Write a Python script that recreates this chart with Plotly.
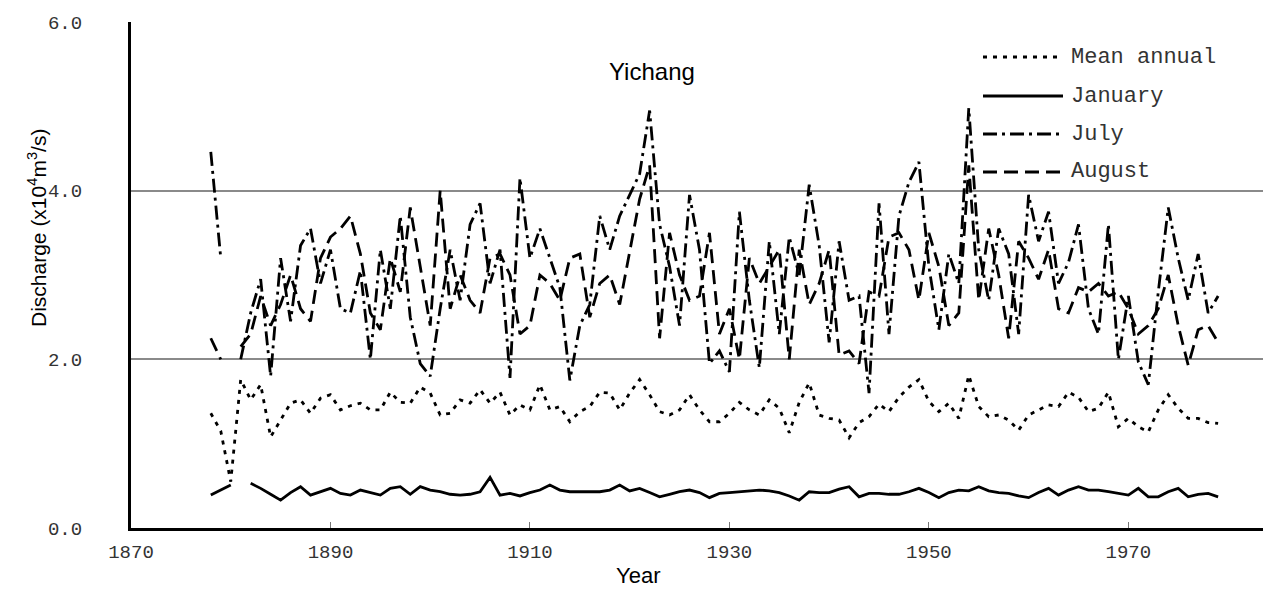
import plotly.graph_objects as go

years = list(range(1878, 1980))

mean_annual = [
    1.36, 1.15, 0.55,
    1.76, 1.52, 1.70, 1.08, 1.28, 1.48, 1.52, 1.36, 1.54, 1.58,
    1.40, 1.45, 1.48, 1.40, 1.40, 1.61, 1.49, 1.48, 1.67, 1.60,
    1.34, 1.36, 1.52, 1.48, 1.64, 1.48, 1.61, 1.34, 1.46, 1.40,
    1.70, 1.40, 1.44, 1.26, 1.38, 1.44, 1.61, 1.60, 1.40, 1.60,
    1.76, 1.58, 1.38, 1.34, 1.40, 1.58, 1.40, 1.26, 1.26, 1.36,
    1.49, 1.40, 1.34, 1.52, 1.42, 1.13, 1.49, 1.72, 1.34, 1.30,
    1.28, 1.07, 1.25, 1.32, 1.47, 1.38, 1.55, 1.67, 1.76, 1.50,
    1.38, 1.48, 1.30, 1.81, 1.44, 1.32, 1.34, 1.28, 1.16, 1.34,
    1.40, 1.46, 1.44, 1.61, 1.55, 1.38, 1.42, 1.61, 1.20, 1.30,
    1.20, 1.14, 1.40, 1.58, 1.42, 1.30, 1.30, 1.25, 1.24,
]

january = [
    0.39, 0.45, 0.51,
    None, 0.53, 0.47, 0.40, 0.33, 0.42, 0.49, 0.39, 0.43, 0.47,
    0.41, 0.39, 0.45, 0.42, 0.39, 0.47, 0.49, 0.40, 0.49, 0.45,
    0.43, 0.40, 0.39, 0.40, 0.43, 0.60, 0.39, 0.41, 0.38, 0.42,
    0.45, 0.51, 0.45, 0.43, 0.43, 0.43, 0.43, 0.45, 0.51, 0.44,
    0.47, 0.42, 0.37, 0.40, 0.43, 0.45, 0.42, 0.36, 0.41, 0.42,
    0.43, 0.44, 0.45, 0.44, 0.42, 0.38, 0.33, 0.43, 0.42, 0.42,
    0.46, 0.49, 0.37, 0.41, 0.41, 0.40, 0.40, 0.43, 0.47, 0.42,
    0.36, 0.42, 0.45, 0.44, 0.49, 0.44, 0.42, 0.41, 0.38, 0.36,
    0.42, 0.47, 0.39, 0.45, 0.49, 0.45, 0.45, 0.43, 0.41, 0.39,
    0.47, 0.37, 0.37, 0.43, 0.47, 0.37, 0.40, 0.41, 0.37,
]

july = [
    4.46, 3.20, None,
    2.00, 2.55, 2.95, 1.80, 3.20, 2.45, 3.35, 3.55, 2.90, 3.30,
    2.60, 2.55, 3.05, 2.00, 3.30, 2.60, 3.70, 2.50, 1.95, 1.80,
    2.60, 3.30, 2.70, 3.60, 3.85, 2.90, 3.30, 1.78, 4.15, 3.20,
    3.55, 3.20, 2.85, 1.75, 2.40, 2.65, 3.70, 3.30, 3.70, 3.95,
    4.20, 4.95, 3.60, 3.10, 2.40, 3.95, 3.30, 1.95, 2.10, 1.85,
    3.75, 2.70, 1.90, 3.40, 2.30, 3.45, 3.00, 4.07, 3.35, 2.20,
    3.40, 2.70, 2.75, 1.60, 3.85, 2.30, 3.70, 4.10, 4.34, 3.10,
    2.35, 3.25, 2.90, 4.98, 3.30, 2.70, 3.55, 3.25, 2.30, 3.95,
    3.40, 3.75, 2.90, 3.15, 3.60, 2.60, 2.30, 3.60, 2.00, 2.75,
    1.97, 1.70, 2.80, 3.80, 3.20, 2.70, 3.25, 2.55, 2.75,
]

august = [
    2.25, 2.00, None,
    2.15, 2.30, 2.75, 2.40, 2.65, 3.00, 2.60, 2.45, 3.20, 3.45,
    3.55, 3.70, 3.25, 2.55, 2.35, 3.20, 2.80, 3.80, 3.10, 2.40,
    4.00, 2.60, 3.00, 2.70, 2.55, 3.20, 3.25, 3.00, 2.30, 2.40,
    3.00, 2.90, 2.70, 3.20, 3.25, 2.50, 2.90, 3.00, 2.65, 3.30,
    3.90, 4.30, 2.25, 3.50, 3.00, 2.70, 2.75, 3.50, 2.30, 2.60,
    2.00, 3.20, 2.90, 3.10, 3.30, 2.00, 3.30, 2.65, 2.90, 3.30,
    2.05, 2.10, 1.95, 2.80, 2.75, 3.45, 3.50, 3.30, 2.70, 3.50,
    3.10, 2.40, 2.55, 4.30, 2.70, 3.55, 3.00, 2.25, 3.40, 3.20,
    2.95, 3.30, 2.60, 2.55, 2.85, 2.80, 2.90, 2.75, 2.80, 2.60,
    2.30, 2.40, 2.60, 3.00, 2.40, 1.93, 2.35, 2.40, 2.20,
]

series_names = ["Mean annual", "January", "July", "August"]
x_tick_vals = [1870, 1890, 1910, 1930, 1950, 1970]
y_tick_vals = [0, 2, 4, 6]

dashes = {
    "Mean annual": "4px,6px",
    "January": "solid",
    "July": "14px,5px,3px,5px",
    "August": "14px,7px",
}
data_map = {"Mean annual": mean_annual, "January": january, "July": july, "August": august}

fig = go.Figure()
for name in series_names:
    fig.add_trace(go.Scatter(
        x=years, y=data_map[name], mode="lines", name=name,
        line=dict(color="black", width=2.8, dash=dashes[name]),
        connectgaps=False, showlegend=False,
    ))

mono = "Liberation Mono"
sans = "Liberation Sans"

# plot area spans x 131..1263 px (1132 px), y 22..528 px (506 px) of the page
PW, PH = 1132.0, 506.0
def px(xp):
    return (xp - 131) / PW
def py(yp):
    return (528 - yp) / PH

# custom legend (line samples + text) in paper coordinates
leg_rows = [57, 96, 134, 172]
for name, yr in zip(series_names, leg_rows):
    fig.add_shape(type="line", xref="paper", yref="paper",
                  x0=px(983), x1=px(1063), y0=py(yr), y1=py(yr),
                  line=dict(color="black", width=2.8, dash=dashes[name]))
    fig.add_annotation(xref="paper", yref="paper", x=px(1069), y=py(yr),
                       text=name, showarrow=False, xanchor="left", yanchor="middle",
                       font=dict(family=mono, size=22, color="#333333"))

fig.add_annotation(xref="paper", yref="paper", x=px(652), y=py(72), text="Yichang",
                   showarrow=False, xanchor="center", yanchor="middle",
                   font=dict(family=sans, size=24, color="black"))
fig.add_annotation(xref="paper", yref="paper", x=px(638), y=py(575), text="Year",
                   showarrow=False, xanchor="center", yanchor="middle",
                   font=dict(family=sans, size=22, color="black"))
fig.add_annotation(xref="paper", yref="paper", x=px(37), y=py(228),
                   text="Discharge (x10<sup>4</sup>m<sup>3</sup>/s)", textangle=-90,
                   showarrow=False, xanchor="center", yanchor="middle",
                   font=dict(family=sans, size=21, color="black"))

# the page body adds an 8px margin; size the figure so the page never overflows
fig.update_layout(
    width=1255, height=579,
    margin=dict(l=123, r=0, t=14, b=59),
    paper_bgcolor="white", plot_bgcolor="white",
    showlegend=False,
)
fig.update_xaxes(
    range=[1870, 1983.5], tickvals=x_tick_vals, ticktext=[str(v) for v in x_tick_vals],
    showgrid=False, zeroline=False,
    showline=True, linecolor="black", linewidth=3,
    ticks="inside", ticklen=6, tickcolor="#777777", tickwidth=1,
    tickfont=dict(family=mono, size=19, color="#333333"),
    ticklabelstandoff=4,
)
fig.update_yaxes(
    range=[0, 6], tickvals=y_tick_vals, ticktext=["%.1f" % v for v in y_tick_vals],
    showgrid=True, gridcolor="#8a8a8a", gridwidth=1.6, zeroline=False,
    showline=True, linecolor="black", linewidth=3,
    ticks="", tickfont=dict(family=mono, size=19, color="#333333"),
    ticklabelstandoff=42,
)

fig.write_html("out.html")
